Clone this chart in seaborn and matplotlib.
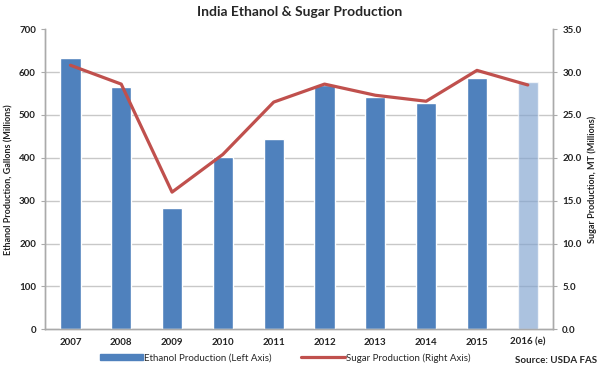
import numpy as np
import matplotlib
matplotlib.use("Agg")
import matplotlib.pyplot as plt
import seaborn as sns
import pandas as pd
from matplotlib.patches import Patch
from matplotlib.lines import Line2D

years = ["2007", "2008", "2009", "2010", "2011", "2012", "2013", "2014", "2015", "2016 (e)"]
ethanol = [632, 566, 283, 401, 443, 569, 542, 529, 586, 577]
sugar = [30.8, 28.6, 16.0, 20.4, 26.5, 28.6, 27.3, 26.6, 30.2, 28.5]

BLUE = "#4F81BD"
LIGHT = "#7FA2CF"
RED = "#C0504D"
GRID = "#C8C8C8"

sns.set_style("white")
plt.rcParams["font.family"] = ["Lato", "DejaVu Sans"]

df = pd.DataFrame({"year": years, "ethanol": ethanol, "sugar": sugar})
colors = {y: BLUE for y in years}
colors["2016 (e)"] = LIGHT

fig = plt.figure(figsize=(6, 3.7), dpi=100)
ax = fig.add_axes([0.075, 0.11, 0.847, 0.811])

sns.barplot(data=df, x="year", y="ethanol", hue="year", palette=colors,
            width=0.4, legend=False, ax=ax, saturation=1, zorder=3)
# estimated year shown lighter, grid shows through
ax.patches[-1].set_alpha(0.65)

ax.set_ylim(0, 700)
ax.set_yticks(range(0, 701, 100))
ax.set_xlim(-0.5, len(years) - 0.5)
for v in range(100, 700, 100):
    ax.axhline(v, color=GRID, linewidth=1, zorder=0)
ax.set_xlabel("")
ax.set_ylabel("Ethanol Production, Gallons (Millions)", fontsize=6.5, fontweight="bold", color="#222222")
ax.tick_params(axis="both", labelsize=7, colors="#222222", length=3, color="#AAAAAA")
for lab in ax.get_xticklabels() + ax.get_yticklabels():
    lab.set_fontweight("bold")
ax.set_xticks(np.arange(len(years)))
ax.set_xticks(np.arange(len(years) + 1) - 0.5, minor=True)
ax.tick_params(axis="x", which="major", length=0, pad=6)
ax.tick_params(axis="x", which="minor", length=3, color="#AAAAAA")

ax2 = ax.twinx()
sns.lineplot(x=np.arange(len(years)), y=sugar, color=RED, linewidth=2.3, ax=ax2, zorder=5)
ax2.set_ylim(0, 35)
ax2.set_yticks(np.arange(0, 35.1, 5))
ax2.set_yticklabels([f"{v:.1f}" for v in np.arange(0, 35.1, 5)])
ax2.set_ylabel("Sugar Production, MT (Millions)", fontsize=6.5, fontweight="bold", color="#222222")
ax2.tick_params(axis="y", labelsize=7, colors="#222222", length=3, color="#AAAAAA")
for lab in ax2.get_yticklabels():
    lab.set_fontweight("bold")

for a in (ax, ax2):
    a.spines["top"].set_visible(False)
    for s in ("left", "right", "bottom"):
        a.spines[s].set_color("#AAAAAA")
        a.spines[s].set_linewidth(1)

fig.suptitle("India Ethanol & Sugar Production", fontsize=10, fontweight="bold", y=0.985, x=0.5)

handles = [Patch(facecolor=BLUE, edgecolor=BLUE), Line2D([], [], color=RED, linewidth=2.3)]
fig.legend(handles, ["Ethanol Production (Left Axis)", "Sugar Production (Right Axis)"],
           loc="center", bbox_to_anchor=(0.475, 0.033), ncol=2, frameon=False,
           fontsize=7, handlelength=4.5, handleheight=0.6, handletextpad=0.1, columnspacing=3)
fig.text(0.995, 0.025, "Source: USDA FAS", fontsize=7, fontweight="bold", ha="right", va="center")

fig.savefig("out.png", dpi=100)
